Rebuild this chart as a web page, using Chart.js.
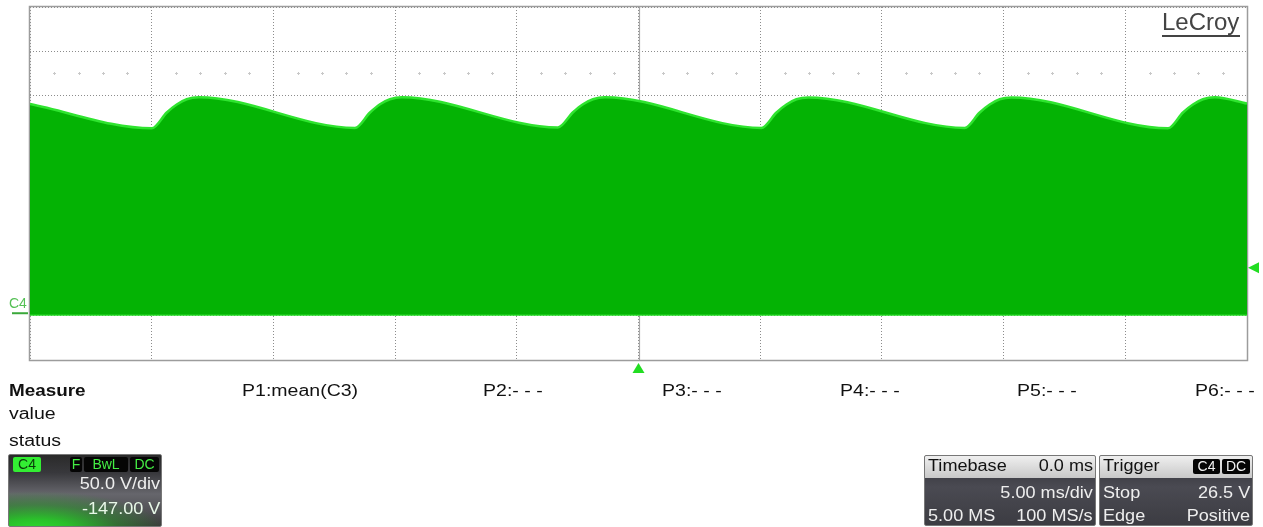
<!DOCTYPE html>
<html>
<head>
<meta charset="utf-8">
<script src="https://cdn.jsdelivr.net/npm/chart.js@4.4.1/dist/chart.umd.min.js"></script>
<style>
  html,body{margin:0;padding:0;background:#fff;}
  #wrap{position:relative;width:1263px;height:527px;overflow:hidden;font-family:"Liberation Sans",Arial,sans-serif;}
  canvas{position:absolute;left:0;top:0;}
  .t{position:absolute;font-size:16px;line-height:19px;color:#111;white-space:nowrap;transform:scaleX(1.22);transform-origin:left top;}
  .b{font-weight:bold;transform:scaleX(1.18);}
  .box{position:absolute;border:1px solid #777;border-radius:2px;overflow:hidden;font-size:16px;line-height:19px;}
  .bx{position:absolute;white-space:nowrap;transform:scaleX(1.13);}
  .bl{transform-origin:left top;}
  .br{transform-origin:right top;}
  #c4box{left:8px;top:454px;width:152px;height:71px;
    background:
      radial-gradient(ellipse 130px 40px at 26px 76px, rgba(45,225,45,1) 0%, rgba(40,205,40,0.9) 30%, rgba(40,170,40,0.45) 65%, rgba(40,160,40,0) 100%),
      linear-gradient(#2a2a2a 0%, #38383c 25%, #66666c 55%, #505054 80%, #3a3a3a 100%);}
  .tag{position:absolute;top:2px;height:15px;line-height:15px;font-size:14px;text-align:center;border-radius:2px;overflow:visible;}
  .tagk{background:#050505;color:#44ee44;}
  .tagw{background:#050505;color:#f2f2f2;}
  #tbbox{left:924px;top:455px;width:170px;height:69px;background:linear-gradient(#2e2e34,#4a4a52 45%,#3c3c42);}
  #trbox{left:1099px;top:455px;width:152px;height:69px;background:linear-gradient(#2e2e34,#4a4a52 45%,#3c3c42);}
  .hdr{position:absolute;left:0;top:0;right:0;height:22px;background:linear-gradient(#efefef,#c8c8c8);}
  .w{color:#eeeeee;}
  #logo{position:absolute;left:1162px;top:8px;font-size:24px;line-height:28px;color:#444;white-space:nowrap;}
  #logoline{position:absolute;left:1162px;top:35px;width:78px;height:0;border-top:2.5px solid #444;}
  #c4mk{position:absolute;left:9px;top:295px;font-size:14px;line-height:16px;color:#55c055;}
</style>
</head>
<body>
<div id="wrap">
  <canvas id="c" width="1263" height="527"></canvas>

  <div id="logo">LeCroy</div>
  <div id="logoline"></div>
  <div id="c4mk">C4</div>

  <div class="t b" style="left:9px;top:381px">Measure</div>
  <div class="t" style="left:9px;top:404px">value</div>
  <div class="t" style="left:9px;top:431px">status</div>

  <div class="t" style="left:242px;top:381px">P1:mean(C3)</div>
  <div class="t" style="left:483px;top:381px">P2:- - -</div>
  <div class="t" style="left:662px;top:381px">P3:- - -</div>
  <div class="t" style="left:840px;top:381px">P4:- - -</div>
  <div class="t" style="left:1017px;top:381px">P5:- - -</div>
  <div class="t" style="left:1195px;top:381px">P6:- - -</div>

  <div class="box" id="c4box">
    <div class="tag" style="left:4px;width:28px;background:#33ee33;color:#0a3a0a;">C4</div>
    <div class="tag tagk" style="left:61px;width:12px;">F</div>
    <div class="tag tagk" style="left:75px;width:44px;">BwL</div>
    <div class="tag tagk" style="left:121px;width:29px;">DC</div>
    <div class="bx br w" style="right:1px;top:19px;">50.0 V/div</div>
    <div class="bx br" style="right:1px;top:44px;color:#e8f8e8;">-147.00 V</div>
  </div>

  <div class="box" id="tbbox">
    <div class="hdr"></div>
    <div class="bx bl" style="left:3px;top:0px;color:#111;">Timebase</div>
    <div class="bx br" style="right:2px;top:0px;color:#111;">0.0 ms</div>
    <div class="bx br w" style="right:2px;top:27px;">5.00 ms/div</div>
    <div class="bx bl w" style="left:3px;top:50px;">5.00 MS</div>
    <div class="bx br w" style="right:2px;top:50px;">100 MS/s</div>
  </div>

  <div class="box" id="trbox">
    <div class="hdr"></div>
    <div class="bx bl" style="left:3px;top:0px;color:#111;">Trigger</div>
    <div class="tag tagw" style="left:93px;top:3px;width:27px;">C4</div>
    <div class="tag tagw" style="left:122px;top:3px;width:28px;">DC</div>
    <div class="bx bl w" style="left:3px;top:27px;">Stop</div>
    <div class="bx br w" style="right:2px;top:27px;">26.5 V</div>
    <div class="bx bl w" style="left:3px;top:50px;">Edge</div>
    <div class="bx br w" style="right:2px;top:50px;">Positive</div>
  </div>
</div>

<script>
// ---- data (time in ms, voltage in V) ----
const timeTicks = [-25, -20, -15, -10, -5, 0, 5, 10, 15, 20, 25];
const voltTicks = [-53, -3, 47, 97, 147, 197, 247, 297, 347];

const envTime = [
  -25.00,
  -20.00, -19.38, -18.97, -18.56, -18.07,
  -11.65, -11.03, -10.62, -10.21, -9.72,
  -3.31, -2.69, -2.28, -1.87, -1.38,
   5.05,  5.67,  6.08,  6.49,  6.98,
  13.40, 14.02, 14.43, 14.84, 15.33,
  21.75, 22.37, 22.78, 23.19, 23.68,
  25.00
];
const envVolts = [
  237.0,
  209.5, 227.5, 236.5, 242.5, 244.7,
  210.0, 227.5, 236.8, 242.5, 244.7,
  210.5, 227.7, 236.8, 242.5, 244.7,
  210.0, 227.5, 236.5, 242.5, 244.5,
  210.0, 227.5, 236.5, 242.5, 244.5,
  209.5, 227.5, 236.5, 242.5, 244.7,
  237.5
];

const groundTime = [-25, 25];
const groundVolts = [-1.5, -1.5];
const triggerTime = 0;
const triggerMarkVolts = 51.5;
const minorMarkVolts = 272;

const envPoints = envTime.map((t, i) => ({x: t, y: envVolts[i]}));
const groundPoints = groundTime.map((t, i) => ({x: t, y: groundVolts[i]}));

const decor = {
  id: 'decor',
  beforeDatasetsDraw(chart) {
    const {ctx, chartArea: a, scales: {x, y}} = chart;
    ctx.save();
    ctx.strokeStyle = '#c8c8c8';
    ctx.lineWidth = 1;
    const ym = Math.round(y.getPixelForValue(minorMarkVolts)) + 0.5;
    for (let t = -25; t <= 25; t++) {
      if (t % 5 === 0) continue;
      const xm = Math.round(x.getPixelForValue(t)) + 0.5;
      ctx.beginPath();
      ctx.moveTo(xm - 1.5, ym); ctx.lineTo(xm + 1.5, ym);
      ctx.moveTo(xm, ym - 1.5); ctx.lineTo(xm, ym + 1.5);
      ctx.stroke();
    }
    const xc = Math.round(x.getPixelForValue(triggerTime)) + 0.5;
    ctx.strokeStyle = '#a8a8a8';
    ctx.lineWidth = 1.2;
    ctx.beginPath(); ctx.moveTo(xc, a.top); ctx.lineTo(xc, a.bottom); ctx.stroke();
    ctx.strokeStyle = '#9c9c9c';
    ctx.lineWidth = 1.5;
    ctx.strokeRect(a.left - 0.5, a.top - 0.5, a.right - a.left + 1, a.bottom - a.top + 1);
    ctx.restore();
  },
  afterDatasetsDraw(chart) {
    const {ctx, chartArea: a, scales: {x, y}} = chart;
    ctx.save();
    const yg = y.getPixelForValue(0);
    ctx.strokeStyle = '#3aa83a';
    ctx.lineWidth = 2;
    ctx.beginPath(); ctx.moveTo(a.left - 18, yg); ctx.lineTo(a.left - 2, yg); ctx.stroke();
    const yt = y.getPixelForValue(triggerMarkVolts);
    ctx.fillStyle = '#22dd22';
    ctx.beginPath();
    ctx.moveTo(a.right + 1, yt);
    ctx.lineTo(a.right + 12, yt - 5.5);
    ctx.lineTo(a.right + 12, yt + 5.5);
    ctx.closePath(); ctx.fill();
    const xt = x.getPixelForValue(triggerTime);
    ctx.beginPath();
    ctx.moveTo(xt, a.bottom + 3);
    ctx.lineTo(xt - 6, a.bottom + 13);
    ctx.lineTo(xt + 6, a.bottom + 13);
    ctx.closePath(); ctx.fill();
    ctx.restore();
  }
};

new Chart(document.getElementById('c'), {
  type: 'line',
  data: {
    datasets: [
      {
        data: envPoints,
        borderColor: '#2fe42f',
        borderWidth: 2.5,
        backgroundColor: '#04b304',
        fill: {value: groundVolts[0]},
        cubicInterpolationMode: 'monotone',
        pointRadius: 0
      },
      {
        data: groundPoints,
        borderColor: '#26dc26',
        borderWidth: 2.5,
        fill: false,
        pointRadius: 0
      }
    ]
  },
  options: {
    responsive: false,
    animation: false,
    devicePixelRatio: 1,
    layout: {padding: {left: 30, top: 7, right: 16, bottom: 167}},
    plugins: {legend: {display: false}, tooltip: {enabled: false}},
    scales: {
      x: {
        type: 'linear', min: -25, max: 25,
        afterBuildTicks: s => { s.ticks = timeTicks.map(v => ({value: v})); },
        ticks: {display: false},
        grid: {color: '#8c8c8c', drawTicks: false, lineWidth: 1},
        border: {display: false, dash: [1, 2]}
      },
      y: {
        type: 'linear', min: voltTicks[0], max: voltTicks[voltTicks.length - 1],
        afterBuildTicks: s => { s.ticks = voltTicks.map(v => ({value: v})); },
        ticks: {display: false},
        grid: {color: '#8c8c8c', drawTicks: false, lineWidth: 1},
        border: {display: false, dash: [1, 2]}
      }
    }
  },
  plugins: [decor]
});
</script>
</body>
</html>
